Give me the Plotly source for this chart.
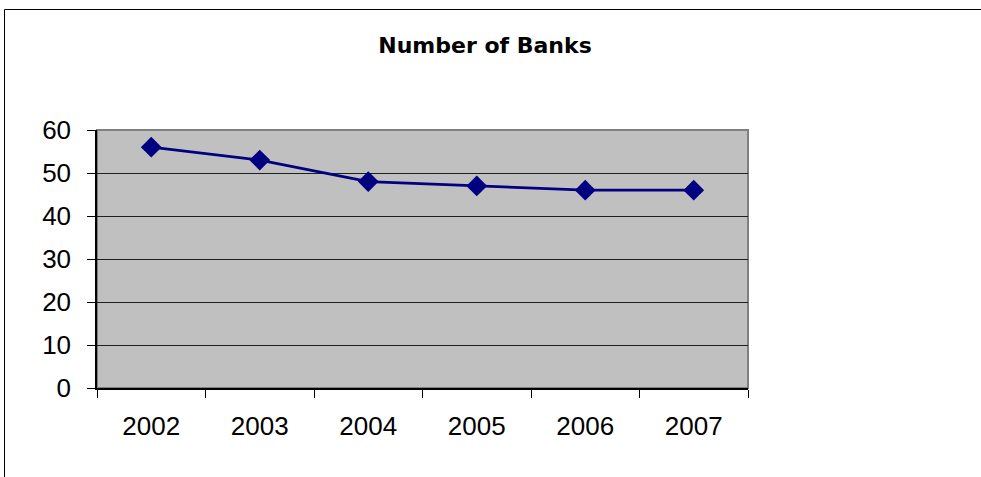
import plotly.graph_objects as go

years = ["2002", "2003", "2004", "2005", "2006", "2007"]
banks = [56, 53, 48, 47, 46, 46]
y_ticks = [0, 10, 20, 30, 40, 50, 60]

W, H = 981, 477
L, R, T, B = 97, 748, 130, 388  # plot area in pixels

def px_x(px):
    return (px - L) / (R - L)

def px_y(py):
    return (B - py) / (B - T)

fig = go.Figure()
fig.add_trace(go.Scatter(
    x=years, y=banks, mode="lines+markers",
    line=dict(color="#000080", width=2.8),
    marker=dict(symbol="diamond", size=16, color="#000080"),
    showlegend=False, hoverinfo="x+y",
))

font = dict(family="Liberation Sans, Arial, sans-serif", size=26, color="#000000")

fig.update_layout(
    width=W, height=H,
    margin=dict(l=L, r=W - R, t=T, b=H - B, pad=0),
    paper_bgcolor="#FFFFFF",
    plot_bgcolor="#C0C0C0",
    font=font,
    title=dict(
        text="<b>Number of Banks</b>",
        x=px_x(485), xref="paper", xanchor="center",
        y=1 - 45 / H, yref="container", yanchor="middle",
        font=dict(family="DejaVu Sans, sans-serif", size=22, color="#000000"),
    ),
    xaxis=dict(
        type="category", range=[-0.5, 5.5], tickson="boundaries",
        ticks="outside", ticklen=8, tickcolor="#000000", tickwidth=1,
        showline=True, linecolor="#000000", linewidth=1.5,
        showgrid=False, zeroline=False, fixedrange=True,
        ticklabelstandoff=14, tickfont=font,
    ),
    yaxis=dict(
        range=[0, 60], tickvals=y_ticks, ticktext=[str(v) for v in y_ticks],
        ticks="outside", ticklen=8, tickcolor="#000000", tickwidth=1,
        showline=True, linecolor="#000000", linewidth=1.5,
        showgrid=True, gridcolor="#1e1e1e", gridwidth=1,
        zeroline=False, fixedrange=True,
        ticklabelstandoff=11, tickfont=font,
    ),
    shapes=[
        # plot-area frame (top and right edges)
        dict(type="rect", xref="paper", yref="paper", x0=0, x1=1, y0=0, y1=1,
             line=dict(color="#808080", width=2), layer="below"),
        # outer chart border
        dict(type="rect", xref="paper", yref="paper",
             x0=px_x(4.5), x1=px_x(1010), y0=px_y(9.5), y1=px_y(500),
             line=dict(color="#000000", width=1)),
    ],
)

fig.write_html("out.html")
